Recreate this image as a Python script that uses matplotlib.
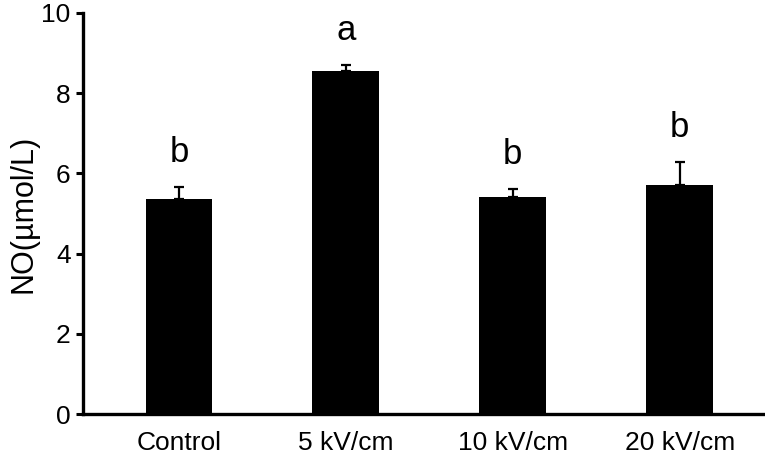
import matplotlib.pyplot as plt

plt.rcParams['font.family'] = ['Liberation Sans', 'DejaVu Sans']

grupos = ['Control', '5 kV/cm', '10 kV/cm', '20 kV/cm']
no_media = [5.36, 8.55, 5.41, 5.71]
no_erro = [0.30, 0.15, 0.20, 0.57]
letras = ['b', 'a', 'b', 'b']

fig = plt.figure(figsize=(7.65, 4.57), dpi=100)
ax = fig.add_axes([0.1085, 0.094, 0.889, 0.878])

x = range(len(grupos))
ax.bar(x, no_media, width=0.4, color='black')
ax.errorbar(x, no_media, yerr=[[0] * len(no_erro), no_erro], fmt='none',
            ecolor='black', elinewidth=1.6, capsize=3.5, capthick=1.6)

for i in x:
    ax.text(i, no_media[i] + no_erro[i] + 0.45, letras[i], ha='center',
            va='bottom', fontsize=25)

ax.set_xlim(-0.575, 3.5)
ax.set_ylim(0, 10)
ax.set_yticks([0, 2, 4, 6, 8, 10])
ax.set_xticks(list(x))
ax.set_xticklabels(grupos)
ax.set_ylabel('NO(µmol/L)', fontsize=22)
ax.yaxis.set_label_coords(-0.066, 0.5)

for lado in ['top', 'right']:
    ax.spines[lado].set_visible(False)
for lado in ['left', 'bottom']:
    ax.spines[lado].set_linewidth(2.4)

ax.tick_params(axis='y', length=5, width=2.2, labelsize=19, pad=4)
ax.tick_params(axis='x', length=0, labelsize=19, pad=12)

fig.savefig('out.png', dpi=100)
